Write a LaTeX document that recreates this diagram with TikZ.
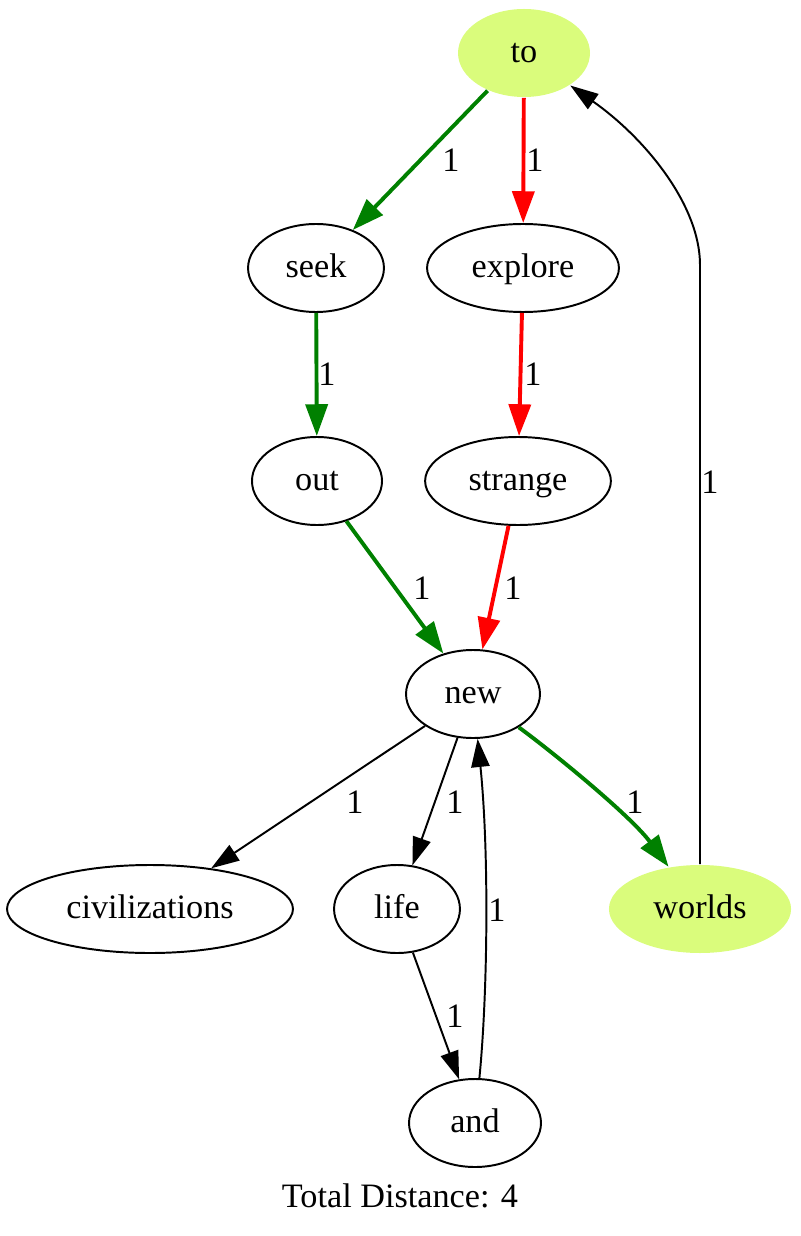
\documentclass[tikz,border=0pt]{standalone}
\usepackage{fontspec}
\setmainfont{Liberation Serif}
\usetikzlibrary{shapes.geometric,arrows.meta}
\definecolor{hl}{RGB}{218,252,124}
\definecolor{pgreen}{RGB}{0,128,0}

\begin{document}
\begin{tikzpicture}[x=0.4091pt,y=-0.4091pt,
      word/.style={ellipse, draw, line width=0.8pt, minimum height=36pt, inner sep=0pt, text height=10pt, text depth=2pt, font=\fontsize{14}{16}\selectfont},
      goal/.style={word, draw=none, fill=hl},
      lbl/.style={inner sep=0pt, font=\fontsize{14}{16}\selectfont},
      blk/.style={line width=0.8pt, -{Triangle[length=11.5pt,width=7.5pt]}},
      grn/.style={pgreen, line width=1.6pt, -{Triangle[length=13pt,width=9pt]}},
      rd/.style={red, line width=1.6pt, -{Triangle[length=13pt,width=9pt]}}]
      \useasboundingbox (0,0) rectangle (800,1236);
      \node[goal, minimum width=54pt] (to) at (524,53) {to};
      \node[word, minimum width=55.6pt] (seek) at (316,268) {seek};
      \node[word, minimum width=78.5pt] (explore) at (523,268) {explore};
      \node[word, minimum width=53.2pt] (out) at (317,481) {out};
      \node[word, minimum width=76pt] (strange) at (518,481) {strange};
      \node[word, minimum width=54.8pt] (new) at (473,694) {new};
      \node[word, minimum width=117pt] (civ) at (150,909) {civilizations};
      \node[word, minimum width=51.5pt] (life) at (397,909) {life};
      \node[goal, minimum width=74.5pt] (worlds) at (700,909) {worlds};
      \node[word, minimum width=54pt] (and) at (475,1123) {and};
      \node[lbl] (total) at (400,1196) {Total Distance: 4};
      \coordinate (wt) at (700,265);

      \draw[grn] (to) -- (seek);
      \draw[rd] (to) -- (explore);
      \draw[grn] (seek) -- (out);
      \draw[rd] (explore) -- (strange);
      \draw[grn] (out) -- (new);
      \draw[rd] (strange) -- (new);
      \draw[blk] (new) -- (civ);
      \draw[blk] (new) -- (life);
      \draw[blk] (life) -- (and);
      \draw[blk] (and) .. controls (488,990) and (489,850) .. (new);
      \draw[grn] (new) .. controls (550,750) and (630,815) .. (worlds);
      \draw[blk] (worlds) -- (wt) .. controls (700,205) and (645,138) .. (to);

      \node[lbl] (l1) at (451,160) {1};
      \node[lbl] (l2) at (535,160) {1};
      \node[lbl] (l3) at (327,374) {1};
      \node[lbl] (l4) at (533,374) {1};
      \node[lbl] (l5) at (422,588) {1};
      \node[lbl] (l6) at (513,588) {1};
      \node[lbl] (l7) at (355,802) {1};
      \node[lbl] (l8) at (455,802) {1};
      \node[lbl] (l9) at (635,802) {1};
      \node[lbl] (l10) at (710,482) {1};
      \node[lbl] (l11) at (497,910) {1};
      \node[lbl] (l12) at (455,1016) {1};
\end{tikzpicture}
\end{document}
